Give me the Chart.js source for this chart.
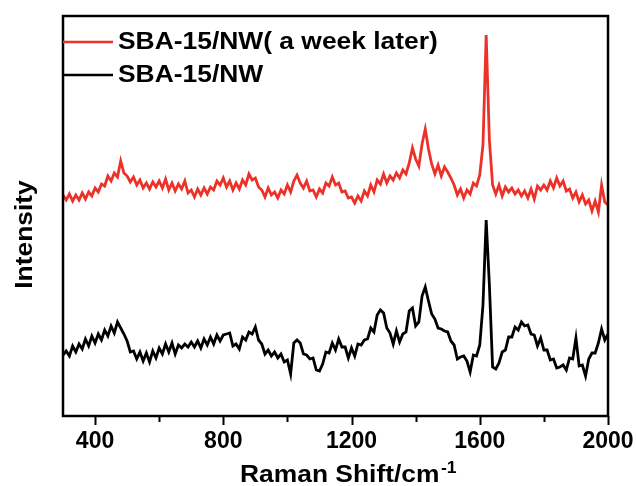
<!DOCTYPE html>
<html>
<head>
<meta charset="utf-8">
<script src="https://cdn.jsdelivr.net/npm/chart.js@4.4.1/dist/chart.umd.min.js"></script>
<style>
  html, body { margin: 0; padding: 0; background: #fff; }
</style>
</head>
<body>
<canvas id="myChart" width="636" height="486"></canvas>
<script>
// Raman shift grid, 300 to 2000 cm-1 every 10
const shift = [];
for (let w = 300; w <= 2000; w += 10) shift.push(w);

// SBA-15/NW( a week later) - red trace (arbitrary intensity units)
const weekLater = [
  219, 214, 220, 213, 219, 214, 221, 215, 222, 218,
  226, 222, 230, 228, 238, 233, 241, 237, 253, 241,
  238, 232, 237, 229, 234, 226, 231, 225, 232, 227,
  233, 226, 235, 224, 231, 223, 230, 225, 233, 221,
  224, 217, 225, 219, 226, 220, 227, 224, 233, 229,
  236, 227, 233, 224, 231, 225, 234, 229, 240, 234,
  236, 227, 224, 217, 226, 219, 222, 216, 224, 220,
  229, 222, 233, 239, 231, 226, 233, 223, 224, 217,
  225, 221, 231, 228, 237, 229, 231, 222, 223, 216,
  217, 211, 218, 213, 223, 218, 229, 222, 234, 230,
  240, 231, 238, 234, 241, 236, 244, 240, 251, 266,
  255, 248, 270, 285, 265, 250, 240, 249, 238, 247,
  242, 236, 229, 219, 225, 216, 224, 220, 231, 228,
  239, 269, 379, 274, 229, 220, 229, 218, 227, 222,
  226, 220, 224, 218, 223, 216, 225, 215, 228, 224,
  229, 224, 233, 226, 236, 228, 233, 223, 225, 216,
  222, 212, 219, 210, 214, 203, 213, 202, 229, 212,
  209
];

// SBA-15/NW - black trace
const fresh = [
  59, 63, 58, 68, 62, 70, 65, 75, 68, 78,
  71, 80, 74, 84, 78, 88, 81, 92, 86, 80,
  73, 62, 63, 55, 62, 53, 61, 52, 63, 56,
  66, 60, 70, 62, 71, 60, 69, 66, 70, 67,
  72, 67, 73, 66, 75, 69, 77, 70, 79, 73,
  79, 80, 81, 68, 70, 65, 77, 74, 82, 80,
  87, 74, 70, 60, 64, 58, 62, 56, 60, 52,
  54, 40, 71, 74, 71, 60, 59, 55, 56, 44,
  43, 50, 62, 61, 71, 64, 75, 67, 67, 56,
  66, 58, 70, 69, 74, 75, 86, 82, 99, 104,
  101, 86, 81, 70, 83, 72, 80, 82, 103, 106,
  88, 92, 118, 127, 113, 100, 95, 86, 85, 83,
  82, 73, 69, 55, 57, 58, 53, 42, 59, 58,
  69, 109, 194, 129, 47, 45, 51, 62, 64, 77,
  77, 87, 84, 92, 88, 89, 80, 79, 68, 76,
  64, 64, 54, 55, 46, 47, 49, 44, 56, 55,
  76, 48, 49, 38, 55, 61, 61, 71, 85, 74,
  80
];

const tickValues = [400, 600, 800, 1000, 1200, 1400, 1600, 1800, 2000];
const labelValues = [400, 800, 1200, 1600, 2000];

const FONT = "'Liberation Sans', Arial, sans-serif";
const RED = 'rgb(236, 50, 40)';

function toPoints(values) {
  return values.map((v, i) => ({x: shift[i], y: v}));
}

function wideText(ctx, text, x, y, sx) {
  ctx.save();
  ctx.translate(x, y);
  ctx.scale(sx, 1);
  ctx.fillText(text, 0, 0);
  ctx.restore();
}

// frame, tick marks, legend and axis titles
const decor = {
  id: 'decor',
  afterDraw(chart) {
    const ctx = chart.ctx;
    const a = chart.chartArea;
    const x = chart.scales.x;
    ctx.save();
    ctx.strokeStyle = '#000';
    ctx.lineWidth = 2.5;
    ctx.strokeRect(a.left, a.top, a.right - a.left, a.bottom - a.top);

    ctx.lineWidth = 2;
    tickValues.forEach(v => {
      const px = Math.round(x.getPixelForValue(v)) + 0.5;
      const len = labelValues.includes(v) ? 9 : 6;
      ctx.beginPath();
      ctx.moveTo(px, a.bottom);
      ctx.lineTo(px, a.bottom + len);
      ctx.stroke();
    });

    // legend
    ctx.fillStyle = '#000';
    ctx.textBaseline = 'alphabetic';
    ctx.textAlign = 'left';
    ctx.font = 'bold 24px ' + FONT;
    chart.data.datasets.forEach((ds, i) => {
      const ly = a.top + 26 + i * 33;
      ctx.strokeStyle = ds.borderColor;
      ctx.lineWidth = 2.5;
      ctx.beginPath();
      ctx.moveTo(a.left, ly);
      ctx.lineTo(a.left + 50, ly);
      ctx.stroke();
      wideText(ctx, ds.label, a.left + 55, ly + 6.5, 1.1);
    });

    // x title with superscript
    ctx.font = 'bold 24px ' + FONT;
    wideText(ctx, 'Raman Shift/cm', 240, 482, 1.1);
    ctx.font = 'bold 16px ' + FONT;
    wideText(ctx, '-1', 441, 473, 1.1);

    // y title
    ctx.font = 'bold 24px ' + FONT;
    ctx.textAlign = 'center';
    ctx.save();
    ctx.translate(32, 234.5);
    ctx.rotate(-Math.PI / 2);
    ctx.scale(1.1, 1);
    ctx.fillText('Intensity', 0, 0);
    ctx.restore();
    ctx.restore();
  }
};

new Chart(document.getElementById('myChart').getContext('2d'), {
  type: 'line',
  data: {
    datasets: [{
      label: 'SBA-15/NW( a week later)',
      data: toPoints(weekLater),
      borderColor: RED,
      borderWidth: 2.8,
      pointRadius: 0,
      tension: 0
    }, {
      label: 'SBA-15/NW',
      data: toPoints(fresh),
      borderColor: '#000',
      borderWidth: 2.8,
      pointRadius: 0,
      tension: 0
    }]
  },
  options: {
    responsive: false,
    animation: false,
    devicePixelRatio: 1,
    layout: { padding: { left: 63, right: 28, top: 16, bottom: 0 } },
    plugins: {
      legend: { display: false },
      tooltip: { enabled: false }
    },
    scales: {
      x: {
        type: 'linear',
        min: 300,
        max: 2000,
        grid: { display: false, drawTicks: false },
        border: { display: false },
        afterBuildTicks: s => { s.ticks = tickValues.map(v => ({value: v})); },
        afterFit: s => {
          s.height = 70;
          s.paddingLeft = 0;
          s.paddingRight = 0;
        },
        ticks: {
          autoSkip: false,
          maxRotation: 0,
          padding: 12,
          color: '#000',
          font: { family: FONT, size: 23, weight: 'bold' },
          callback: v => labelValues.includes(v) ? String(v) : ''
        }
      },
      y: {
        display: false,
        min: -2,
        max: 398
      }
    }
  },
  plugins: [decor]
});
</script>
</body>
</html>
